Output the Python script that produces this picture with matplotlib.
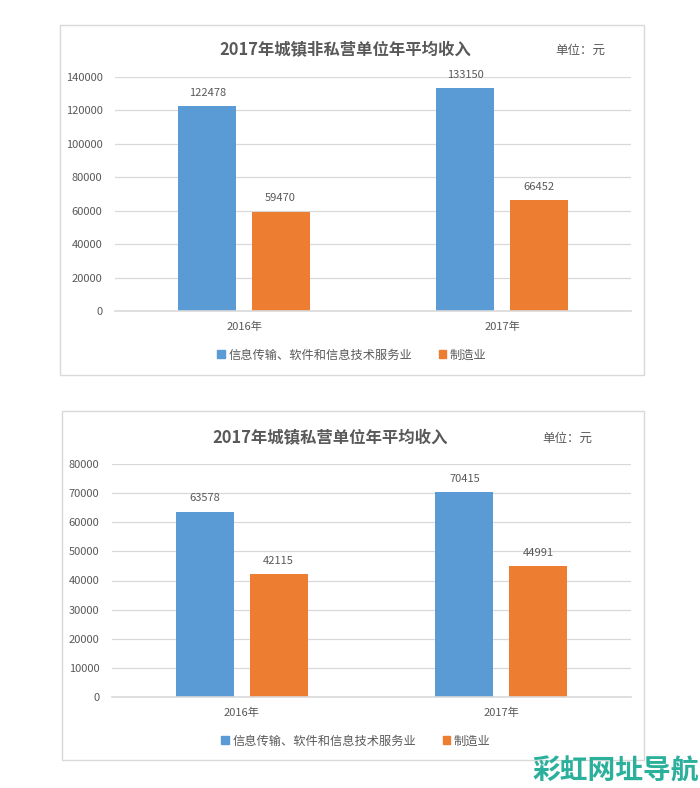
import matplotlib.pyplot as plt
from matplotlib.patches import Rectangle, Patch
import numpy as np

plt.rcParams['font.family'] = ['Noto Sans CJK SC', 'DejaVu Sans']

# datos
years = ['2016年', '2017年']
series_names = ['信息传输、软件和信息技术服务业', '制造业']
nonprivate_it = [122478, 133150]
nonprivate_mfg = [59470, 66452]
private_it = [63578, 70415]
private_mfg = [42115, 44991]

title_top = '2017年城镇非私营单位年平均收入'
title_bottom = '2017年城镇私营单位年平均收入'
unit_text = '单位：元'

blue = '#5B9BD5'
orange = '#ED7D31'
grey_text = '#595959'
grid_col = '#D9D9D9'

W, H = 700, 788
fig = plt.figure(figsize=(W / 100, H / 100), dpi=100)


def px_axes(x0, y0, x1, y1):
    # pixeles (origen arriba a la izquierda) -> coordenadas de figura
    return fig.add_axes([x0 / W, 1 - y1 / H, (x1 - x0) / W, (y1 - y0) / H])


def draw_chart(ax, it_vals, mfg_vals, ymax, step):
    x = np.arange(len(years))
    w = 0.224
    off = 0.142
    b1 = ax.bar(x - off, it_vals, w, color=blue, zorder=3)
    b2 = ax.bar(x + off, mfg_vals, w, color=orange, zorder=3)
    for bars in (b1, b2):
        for r in bars:
            ax.annotate(f'{int(r.get_height())}',
                        (r.get_x() + r.get_width() / 2, r.get_height()),
                        xytext=(0, 6), textcoords='offset points',
                        ha='center', va='bottom', fontsize=8, color=grey_text)
    ax.set_xlim(-0.5, 1.5)
    ax.set_ylim(0, ymax)
    ax.set_yticks(np.arange(0, ymax + 1, step))
    ax.set_xticks(x)
    ax.set_xticklabels(years)
    ax.tick_params(axis='both', length=0, labelsize=8, labelcolor=grey_text)
    ax.tick_params(axis='y', pad=9)
    ax.tick_params(axis='x', pad=8)
    for s in ax.spines.values():
        s.set_visible(False)
    ax.grid(axis='y', color=grid_col, linewidth=0.9, zorder=0)
    ax.axhline(0, color=grid_col, linewidth=1.2, zorder=4, clip_on=False)
    ax.set_facecolor('none')


# cajas
fig.patches.append(Rectangle((60 / W, 1 - 375 / H), 584 / W, 350 / H,
                             transform=fig.transFigure, fill=False,
                             edgecolor=grid_col, linewidth=1))
fig.patches.append(Rectangle((62 / W, 1 - 760 / H), 582 / W, 349 / H,
                             transform=fig.transFigure, fill=False,
                             edgecolor=grid_col, linewidth=1))

handles = [Patch(color=blue, label=series_names[0]),
           Patch(color=orange, label=series_names[1])]

# grafico superior
ax1 = px_axes(115, 77, 631, 311)
draw_chart(ax1, nonprivate_it, nonprivate_mfg, 140000, 20000)
fig.text(345 / W, 1 - 50 / H, title_top, ha='center', va='center',
         fontsize=11.8, fontweight='bold', color=grey_text)
fig.text(580 / W, 1 - 50 / H, unit_text, ha='center', va='center',
         fontsize=9, color=grey_text)
fig.legend(handles=handles, loc='center', bbox_to_anchor=(352 / W, 1 - 355 / H),
           ncol=2, frameon=False, fontsize=8.8, handlelength=0.6, handleheight=0.6,
           handletextpad=0.3, columnspacing=2.2, labelcolor=grey_text)

# grafico inferior
ax2 = px_axes(112, 464, 631, 697)
draw_chart(ax2, private_it, private_mfg, 80000, 10000)
fig.text(330 / W, 1 - 438 / H, title_bottom, ha='center', va='center',
         fontsize=11.8, fontweight='bold', color=grey_text)
fig.text(567 / W, 1 - 438 / H, unit_text, ha='center', va='center',
         fontsize=9, color=grey_text)
fig.legend(handles=handles, loc='center', bbox_to_anchor=(356 / W, 1 - 741 / H),
           ncol=2, frameon=False, fontsize=8.8, handlelength=0.6, handleheight=0.6,
           handletextpad=0.3, columnspacing=2.2, labelcolor=grey_text)

# marca de agua
fig.text(699 / W, 1 - 786 / H, '彩虹网址导航', ha='right', va='bottom',
         fontsize=20, fontweight='heavy', style='italic', color='#2BB09C')

plt.savefig('out.png', dpi=100)
plt.close()
